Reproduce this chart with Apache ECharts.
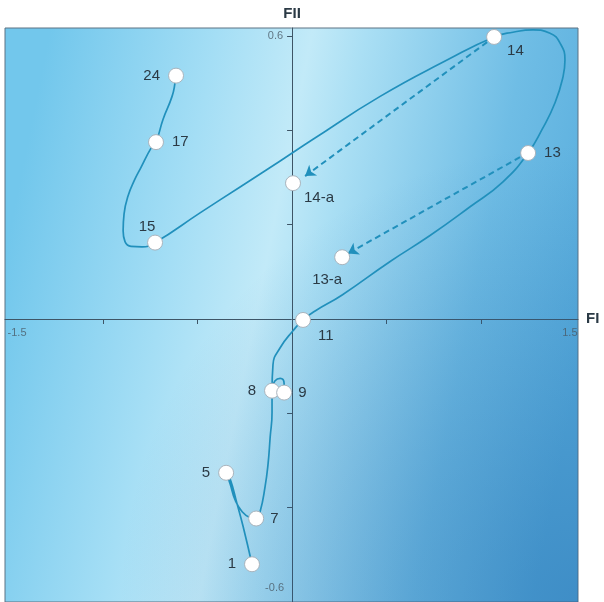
<!DOCTYPE html>
<html>
<head>
<meta charset="utf-8">
<script src="https://cdn.jsdelivr.net/npm/echarts@6/dist/echarts.min.js"></script>
<style>
	html, body { margin: 0; padding: 0; background: #fff; }
	#chart { width: 604px; height: 602px; }
</style>
</head>
<body>
<div id="chart"></div>
<script>
// labelled stages
const pointNames = ['1', '5', '7', '8', '9', '11', '13', '14', '15', '17', '24', '14-a', '13-a'];
const pointFI  = [-0.212, -0.349, -0.190, -0.106, -0.042, 0.058, 1.249, 1.069, -0.725, -0.720, -0.614, 0.005, 0.265];
const pointFII = [-0.520, -0.326, -0.423, -0.152, -0.156, -0.002, 0.352, 0.598, 0.162, 0.375, 0.516, 0.288, 0.131];

// traced trajectory 1 -> 24
const pathFI = [-0.212, -0.259, -0.291, -0.328, -0.349, -0.328, -0.302, -0.265, -0.222, -0.190,
	-0.169, -0.143, -0.127, -0.116, -0.106, -0.106, -0.101, -0.063, 0.005, 0.058,
	0.122, 0.265, 0.519, 0.730, 0.942, 1.116, 1.249, 1.323, 1.392, 1.434,
	1.444, 1.418, 1.365, 1.275, 1.169, 1.069, 0.820, 0.466, 0.111, -0.063,
	-0.275, -0.487, -0.725, -0.794, -0.852, -0.884, -0.894, -0.889, -0.868, -0.831,
	-0.804, -0.741, -0.720, -0.683, -0.635, -0.619, -0.614];
const pathFII = [-0.520, -0.440, -0.392, -0.339, -0.326, -0.349, -0.383, -0.408, -0.421, -0.423,
	-0.408, -0.356, -0.307, -0.251, -0.198, -0.152, -0.097, -0.061, -0.025, -0.002,
	0.017, 0.051, 0.122, 0.177, 0.238, 0.291, 0.352, 0.402, 0.459, 0.514,
	0.549, 0.585, 0.606, 0.613, 0.608, 0.598, 0.549, 0.472, 0.381, 0.335,
	0.280, 0.225, 0.162, 0.153, 0.154, 0.164, 0.187, 0.223, 0.261, 0.297,
	0.318, 0.366, 0.375, 0.423, 0.472, 0.501, 0.516];

// small hook between 8 and 9
const hookFI  = [-0.106, -0.090, -0.063, -0.042, -0.042];
const hookFII = [-0.147, -0.131, -0.126, -0.137, -0.156];

// dashed arrows 14 -> 14-a, 13 -> 13-a
const arrowFrom = [[1.032, 0.587], [1.206, 0.343]];
const arrowTo   = [[0.069, 0.303], [0.296, 0.139]];

// axis ticks and the four end labels
const xTicks = [-1, -0.5, 0.5, 1];
const yTicks = [-0.4, -0.2, 0.2, 0.4, 0.6];
const tickLabels = ['-1.5', '1.5', '0.6', '-0.6'];
const tickLabelAt = [[-1.5, 0], [1.5, 0], [0, 0.6], [0, -0.6]];

const lineColor = '#2190bc';
const textColor = '#2b3a45';

const labelPlacement = {
	'1': { position: 'left', distance: 8 },
	'5': { position: 'left', distance: 8 },
	'7': { position: 'right', distance: 6 },
	'8': { position: 'left', distance: 8 },
	'9': { position: 'right', distance: 6 },
	'11': { position: 'right', offset: [2, 16] },
	'13': { position: 'right', distance: 8 },
	'14': { position: 'right', offset: [0, 14] },
	'15': { position: 'top', offset: [-8, 5] },
	'17': { position: 'right', distance: 8 },
	'24': { position: 'left', distance: 8 },
	'14-a': { position: 'right', offset: [-2, 15] },
	'13-a': { position: 'bottom', offset: [-15, 2] }
};

const tickLabelStyle = [
	{ align: 'left', verticalAlign: 'middle', offset: [-1, 14] },
	{ align: 'right', verticalAlign: 'middle', offset: [2, 14] },
	{ align: 'right', verticalAlign: 'middle', offset: [-9, 0] },
	{ align: 'right', verticalAlign: 'middle', offset: [-8, -14] }
];

function zip(xs, ys) {
	return xs.map((x, i) => [x, ys[i]]);
}

const chart = echarts.init(document.getElementById('chart'));

chart.setOption({
	animation: false,
	// darker shading towards the lower right corner of the plot
	graphic: [{
		type: 'rect',
		left: 5,
		top: 28,
		shape: { width: 573, height: 574 },
		silent: true,
		z: 1,
		style: {
			fill: new echarts.graphic.RadialGradient(1, 1, 0.8, [
				{ offset: 0, color: 'rgba(25, 95, 165, 0.4)' },
				{ offset: 1, color: 'rgba(25, 95, 165, 0)' }
			])
		}
	}],
	grid: {
		left: 5,
		top: 28,
		width: 573,
		height: 578,
		show: true,
		borderColor: '#5d7383',
		borderWidth: 1,
		backgroundColor: new echarts.graphic.LinearGradient(0, 0.4, 1, 0.6, [
			{ offset: 0, color: '#72c7ec' },
			{ offset: 0.28, color: '#a4def5' },
			{ offset: 0.44, color: '#c2eaf8' },
			{ offset: 0.53, color: '#aadff4' },
			{ offset: 0.8, color: '#6fbde5' },
			{ offset: 1, color: '#58addd' }
		])
	},
	xAxis: {
		type: 'value',
		min: -1.519,
		max: 1.513,
		name: 'FI',
		nameLocation: 'end',
		nameGap: 8,
		nameTextStyle: { fontFamily: 'Liberation Sans', fontWeight: 'bold', fontSize: 15, color: textColor },
		axisLine: { onZero: true, lineStyle: { color: '#3e5566', width: 1 } },
		axisTick: { show: true, customValues: xTicks, length: 5, lineStyle: { color: '#3e5566' } },
		axisLabel: { show: false },
		splitLine: { show: false }
	},
	yAxis: {
		type: 'value',
		min: -0.6,
		max: 0.617,
		name: 'FII',
		nameLocation: 'end',
		nameGap: 7,
		nameTextStyle: { fontFamily: 'Liberation Sans', fontWeight: 'bold', fontSize: 15, color: textColor },
		axisLine: { onZero: true, lineStyle: { color: '#3e5566', width: 1 } },
		axisTick: { show: true, customValues: yTicks, length: 5, lineStyle: { color: '#3e5566' } },
		axisLabel: { show: false },
		splitLine: { show: false }
	},
	series: [
		{
			type: 'line',
			data: zip(pathFI, pathFII),
			smooth: 0.5,
			smoothConstraint: false,
			showSymbol: false,
			lineStyle: { color: lineColor, width: 1.7 },
			z: 2
		},
		{
			type: 'line',
			data: zip(hookFI, hookFII),
			smooth: 0.5,
			showSymbol: false,
			lineStyle: { color: lineColor, width: 1.7 },
			z: 2
		},
		{
			type: 'lines',
			coordinateSystem: 'cartesian2d',
			data: arrowFrom.map((p, i) => ({ coords: [p, arrowTo[i]] })),
			symbol: ['none', 'arrow'],
			symbolSize: 10,
			lineStyle: { color: lineColor, width: 2, type: [6, 4], opacity: 1 },
			z: 3
		},
		{
			type: 'scatter',
			data: pointNames.map((name, i) => ({
				name: name,
				value: [pointFI[i], pointFII[i]],
				label: Object.assign({ show: true }, labelPlacement[name])
			})),
			symbol: 'circle',
			symbolSize: 15,
			clip: false,
			itemStyle: { color: '#ffffff', borderColor: '#a9b4bd', borderWidth: 1, opacity: 1 },
			label: {
				formatter: '{b}',
				fontFamily: 'Liberation Sans',
				fontSize: 15,
				color: textColor
			},
			z: 5
		},
		{
			type: 'scatter',
			data: tickLabels.map((t, i) => ({
				name: t,
				value: tickLabelAt[i],
				label: Object.assign({ show: true, position: 'inside' }, tickLabelStyle[i])
			})),
			symbolSize: 0,
			clip: false,
			silent: true,
			label: {
				formatter: '{b}',
				fontFamily: 'Liberation Sans',
				fontSize: 11,
				color: '#4a5a66'
			},
			z: 4
		}
	]
});

window.addEventListener('resize', () => chart.resize());
</script>
</body>
</html>
